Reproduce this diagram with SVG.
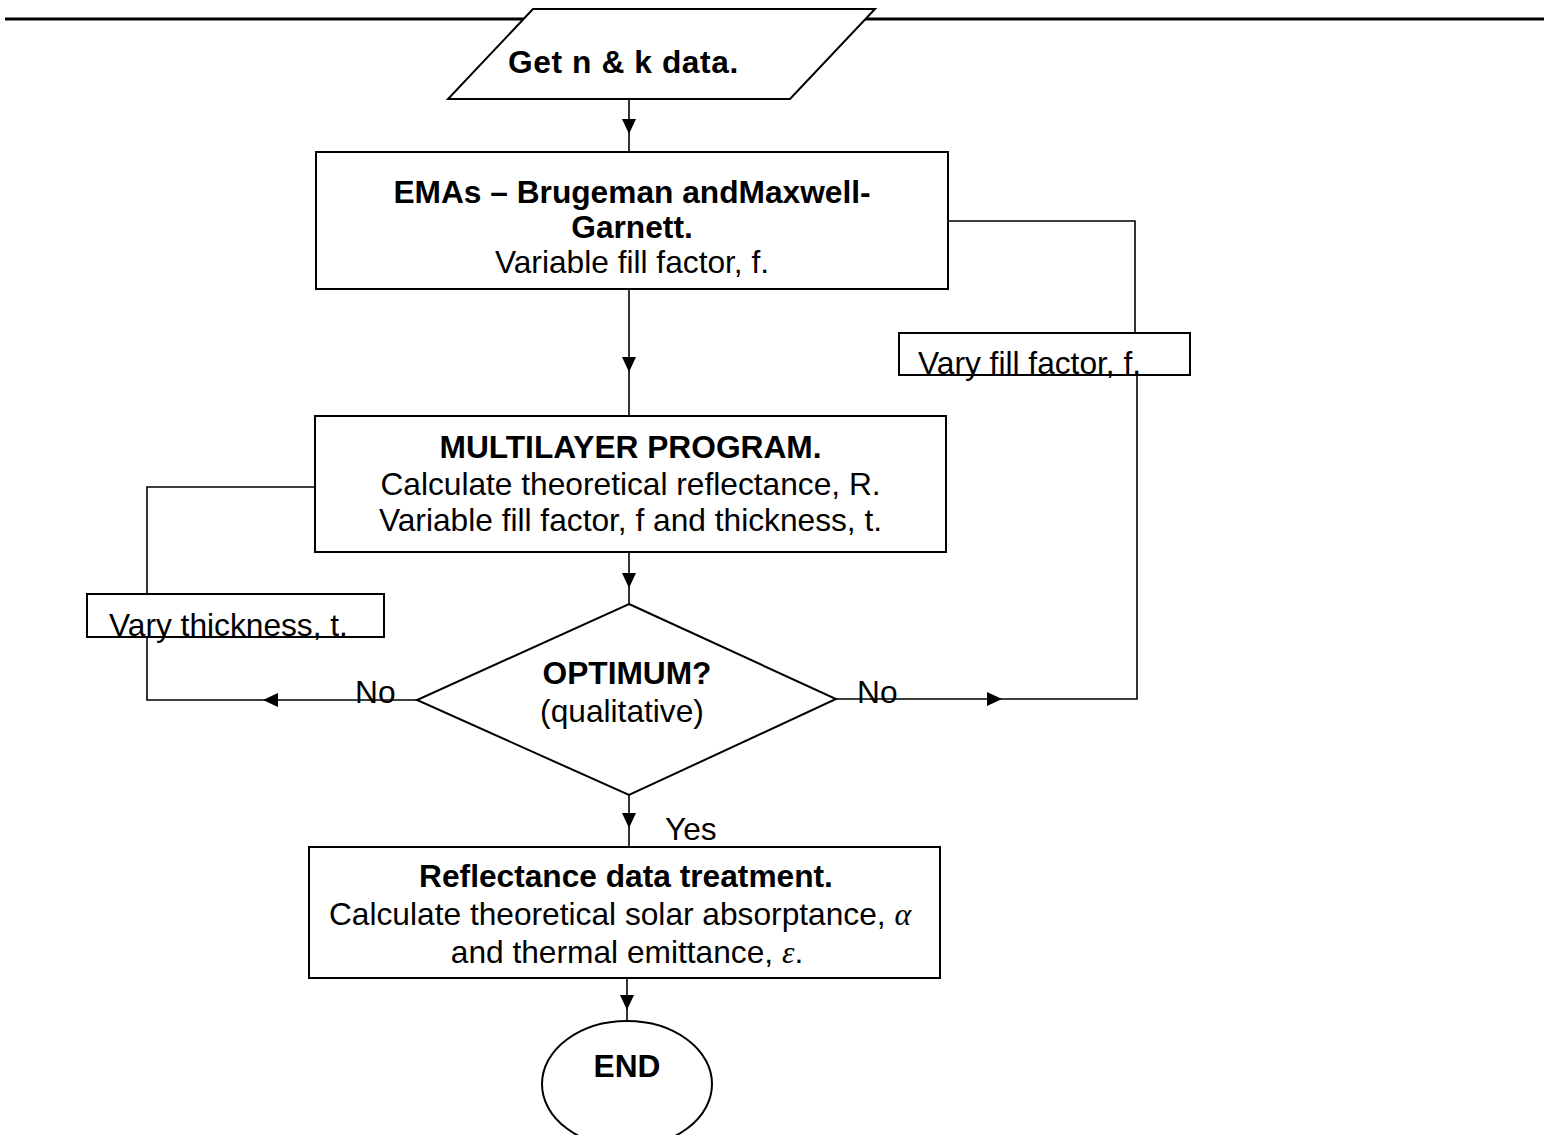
<svg xmlns="http://www.w3.org/2000/svg" width="1544" height="1135" viewBox="0 0 1544 1135">
<style>
text{font-family:"Liberation Sans",Arial,sans-serif;font-size:31.7px;fill:#000}
.b{font-weight:bold}
.c{text-anchor:middle}
.g{font-family:"Liberation Serif","Times New Roman",serif;font-style:italic}
.shape{fill:#fff;stroke:#000;stroke-width:2}
.conn{fill:none;stroke:#000;stroke-width:1.6}
.ah{fill:#000;stroke:none}
</style>
<defs>
<path id="ahd" class="ah" d="M-7,-15 L7,-15 L0,0 Z"/>
<path id="ahl" class="ah" d="M15,-7 L15,7 L0,0 Z"/>
<path id="ahr" class="ah" d="M-15,-7 L-15,7 L0,0 Z"/>
</defs>
<rect x="0" y="0" width="1544" height="1135" fill="#fff"/>
<line x1="5" y1="19" x2="1544" y2="19" stroke="#000" stroke-width="3"/>

<g id="connectors">
<line class="conn" x1="629" y1="99" x2="629" y2="152"/>
<use href="#ahd" x="629" y="134"/>
<line class="conn" x1="629" y1="289" x2="629" y2="416"/>
<use href="#ahd" x="629" y="372"/>
<polyline class="conn" points="948,221 1135,221 1135,333"/>
<polyline class="conn" points="1137,375 1137,699 836,699"/>
<use href="#ahr" x="1002" y="699"/>
<line class="conn" x1="629" y1="552" x2="629" y2="604"/>
<use href="#ahd" x="629" y="588"/>
<polyline class="conn" points="315,487 147,487 147,594"/>
<polyline class="conn" points="147,637 147,700 417,700"/>
<use href="#ahl" x="263" y="700"/>
<line class="conn" x1="629" y1="795" x2="629" y2="847"/>
<use href="#ahd" x="629" y="828"/>
<line class="conn" x1="627" y1="978" x2="627" y2="1021"/>
<use href="#ahd" x="627" y="1010"/>
<text x="355" y="703">No</text>
<text x="857" y="703">No</text>
<text x="665" y="840">Yes</text>
</g>

<g id="n-start">
<polygon class="shape" points="533,9 875,9 790,99 448,99"/>
<text class="b" x="508" y="73" letter-spacing="0.6">Get n &amp; k data.</text>
</g>

<g id="n-ema">
<rect class="shape" x="316" y="152" width="632" height="137"/>
<text class="b c" x="632" y="203">EMAs – Brugeman andMaxwell-</text>
<text class="b c" x="632" y="238">Garnett.</text>
<text class="c" x="632" y="273">Variable fill factor, f.</text>
</g>

<g id="n-varyf">
<rect class="shape" x="899" y="333" width="291" height="42"/>
<text x="918" y="374">Vary fill factor, f.</text>
</g>

<g id="n-multi">
<rect class="shape" x="315" y="416" width="631" height="136"/>
<text class="b c" x="630.5" y="458">MULTILAYER PROGRAM.</text>
<text class="c" x="630.5" y="495">Calculate theoretical reflectance, R.</text>
<text class="c" x="630.5" y="531">Variable fill factor, f and thickness, t.</text>
</g>

<g id="n-varyt">
<rect class="shape" x="87" y="594" width="297" height="43"/>
<text x="109" y="636">Vary thickness, t.</text>
</g>

<g id="n-opt">
<polygon class="shape" points="629,604 836,699 629,795 417,700"/>
<text class="b c" x="627" y="684">OPTIMUM?</text>
<text class="c" x="622" y="722">(qualitative)</text>
</g>

<g id="n-refl">
<rect class="shape" x="309" y="847" width="631" height="131"/>
<text class="b c" x="626" y="887">Reflectance data treatment.</text>
<text class="c" x="620" y="925">Calculate theoretical solar absorptance, <tspan class="g">α</tspan></text>
<text class="c" x="627" y="963">and thermal emittance, <tspan class="g">ε</tspan>.</text>
</g>

<g id="n-end">
<ellipse class="shape" cx="627" cy="1084" rx="85" ry="63"/>
<text class="b c" x="627" y="1077">END</text>
</g>
</svg>
